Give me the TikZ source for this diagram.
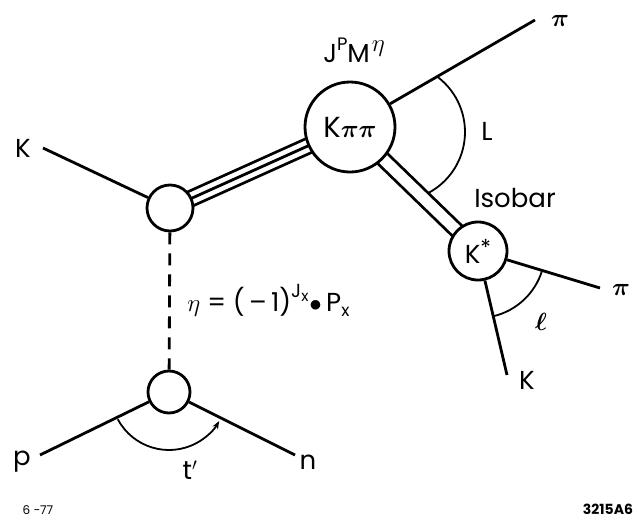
\documentclass[tikz,border=0pt]{standalone}
\usepackage{fontspec}
\setmainfont{Poppins}
\usetikzlibrary{arrows.meta,backgrounds}
\begin{document}
\begin{tikzpicture}[x=1pt,y=-1pt,
  line width=2.8pt,
  vtx/.style={circle,draw,fill=white,line width=2.8pt,inner sep=0pt,minimum size=#1},
  lbl/.style={font=\fontsize{26}{28}\selectfont,inner sep=0pt},
  greek/.style={font=\boldmath\fontsize{40}{42}\selectfont,inner sep=0pt},
  conn/.style={line width=2.8pt},
  dbl/.style={conn,double,double distance=11pt,shorten <=-4pt,shorten >=-4pt},
  thin arc/.style={line width=1.8pt},
]
\useasboundingbox (0,0) rectangle (638,523);

% vertices
\node[vtx=46pt] (u) at (170,208) {};
\node[vtx=42pt] (b) at (169,392) {};
\node[vtx=90pt,font=\boldmath\fontsize{29}{30}\selectfont,inner sep=0pt] (k) at (350,127) {K$\pi\pi$};
\node[vtx=58pt,lbl] (s) at (478,251) {K\raisebox{8pt}{\fontsize{22}{22}\selectfont *}};

% labels
\node[lbl] (lK) at (23,148) {K};
\node[greek] (lpi1) at (560,21) {$\pi$};
\node[lbl] (lJ) at (354,50) {J\raisebox{12pt}{\fontsize{18}{18}\selectfont P}M\hspace{2pt}\raisebox{11pt}{\fontsize{24}{24}\selectfont$\eta$}};
\node[lbl] (lL) at (487,131) {L};
\node[lbl] (liso) at (515,198) {Isobar};
\node[greek] (lpi2) at (621,290) {$\pi$};
\node[greek] (lell) at (541,322) {$\ell$};
\node[lbl] (lK2) at (527,380) {K};
\node[lbl] (lp) at (22,462) {p};
\node[lbl] (ln) at (308,462) {n};
\node[lbl] (lt) at (190,470) {t$'$};
\node[font=\fontsize{26}{28}\selectfont,inner sep=0pt,anchor=west] (leta) at (186,300)
  {{\fontsize{40}{40}\selectfont$\eta$} = (\,–\,1)\raisebox{14pt}{\fontsize{19}{19}\selectfont J\raisebox{-4pt}{\fontsize{15}{15}\selectfont x}}\hspace{1pt}$\bullet$\,P\raisebox{-5pt}{\fontsize{17}{17}\selectfont x}};
\node[font=\fontsize{12}{14}\selectfont,inner sep=0pt] (ldate) at (38,510) {6 −77};
\node[font=\bfseries\fontsize{14}{16}\selectfont,inner sep=0pt] (lnum) at (608,509) {3215A6};

% free ends
\coordinate (eK) at (43,148);
\coordinate (epi1) at (535,20);
\coordinate (epi2) at (600,288);
\coordinate (eK2) at (507,375);
\coordinate (ep) at (40,455);
\coordinate (en) at (295,455);

\begin{scope}[on background layer]
  \draw[conn] (eK) -- (u);
  \draw[conn] (k) -- (epi1);
  \draw[dbl,double distance=12pt] (u) -- (k);
  \draw[conn,shorten <=-4pt,shorten >=-4pt] (u) -- (k);
  \draw[dbl] (k) -- (s);
  \draw[conn] (s) -- (epi2);
  \draw[conn] (s) -- (eK2);
  \draw[conn,dash pattern=on 12pt off 9pt] (u) -- (b);
  \draw[conn] (ep) -- (b);
  \draw[conn] (b) -- (en);
\end{scope}

% angle arcs
\draw[thin arc] (396,132) ++(-52.6:69) arc[start angle=-52.6,end angle=62,radius=69];
\draw[thin arc] (s.center) ++(17:67) arc[start angle=17,end angle=77,radius=67];
\draw[thin arc,-{Stealth[length=8pt,width=6pt]}] (b.center) ++(152:58) arc[start angle=152,end angle=30,radius=58];
\end{tikzpicture}
\end{document}
